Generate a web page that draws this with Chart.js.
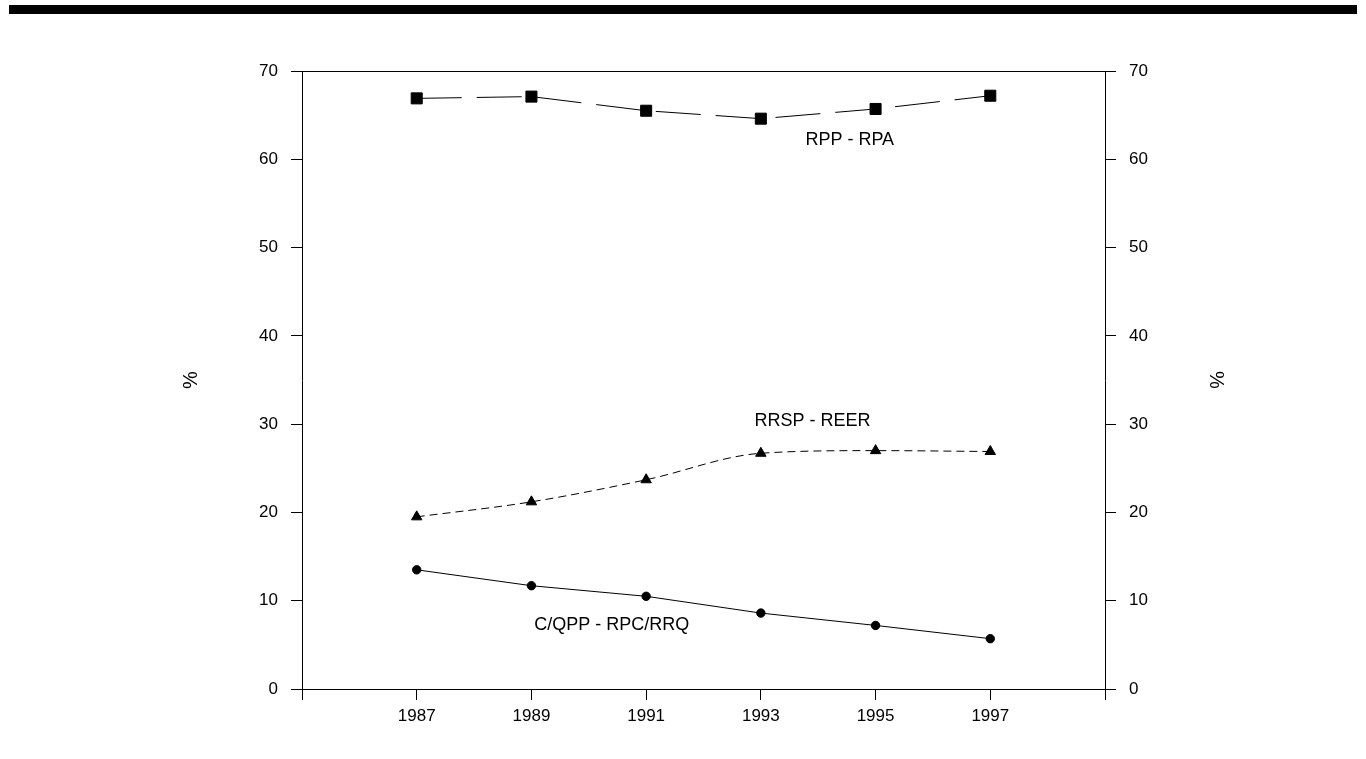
<!DOCTYPE html>
<html>
<head>
<meta charset="utf-8">
<script src="https://cdn.jsdelivr.net/npm/chart.js@4"></script>
<style>
  body { margin: 0; background: #fff; }
  #barra { position: absolute; left: 9px; top: 5px; width: 1348px; height: 9px; background: #000; }
  #grafico { position: absolute; left: 0; top: 0; }
</style>
</head>
<body>
<div id="barra"></div>
<canvas id="grafico" width="1366" height="759"></canvas>
<script>
// dados
const anos = [1987, 1989, 1991, 1993, 1995, 1997];
const rpp = [66.9, 67.1, 65.5, 64.6, 65.7, 67.2];
const rrsp = [19.5, 21.2, 23.7, 26.7, 27.0, 26.9];
const cqpp = [13.5, 11.7, 10.5, 8.6, 7.2, 5.7];

const nomes = ['RPP - RPA', 'RRSP - REER', 'C/QPP - RPC/RRQ'];
// onde fica cada rótulo (em valores dos eixos)
const rotuloX = [1994.55, 1993.9, 1990.4];
const rotuloY = [62.2, 30.4, 7.3];

const fonte = "'Liberation Sans', Arial, sans-serif";

function pontos(valores) {
  return anos.map((a, i) => ({ x: a, y: valores[i] }));
}

// rótulos escritos dentro do gráfico
const rotulos = {
  id: 'rotulos',
  afterDatasetsDraw(chart) {
    const c = chart.ctx;
    c.save();
    c.fillStyle = '#000';
    c.font = '18px ' + fonte;
    c.textAlign = 'center';
    c.textBaseline = 'middle';
    nomes.forEach((n, i) => {
      c.fillText(n, chart.scales.x.getPixelForValue(rotuloX[i]), chart.scales.y.getPixelForValue(rotuloY[i]));
    });
    c.restore();
  }
};

function eixoY(posicao) {
  return {
    position: posicao,
    min: 0,
    max: 70,
    ticks: { stepSize: 10, color: '#000', padding: 13, font: { family: fonte, size: 17 } },
    grid: { drawOnChartArea: false, tickLength: 11, color: '#000', lineWidth: 1 },
    border: { color: '#000', width: 1 },
    title: { display: true, text: '%', color: '#000', padding: 0, font: { family: fonte, size: 20 } },
    afterFit: s => { s.width = 123; }
  };
}

const ctx = document.getElementById('grafico').getContext('2d');
new Chart(ctx, {
  type: 'line',
  data: {
    datasets: [
      {
        label: nomes[0],
        data: pontos(rpp),
        borderColor: '#000',
        backgroundColor: '#000',
        borderWidth: 1,
        borderDash: [45, 15],
        tension: 0,
        pointStyle: 'rect',
        pointRadius: 7.8,
        pointBorderWidth: 1
      },
      {
        label: nomes[1],
        data: pontos(rrsp),
        borderColor: '#000',
        backgroundColor: '#000',
        borderWidth: 1,
        borderDash: [8, 5],
        cubicInterpolationMode: 'monotone',
        pointStyle: 'triangle',
        pointRadius: 6,
        pointBorderWidth: 1
      },
      {
        label: nomes[2],
        data: pontos(cqpp),
        borderColor: '#000',
        backgroundColor: '#000',
        borderWidth: 1,
        tension: 0,
        pointStyle: 'circle',
        pointRadius: 4.2,
        pointBorderWidth: 1
      }
    ]
  },
  options: {
    responsive: false,
    animation: false,
    layout: { padding: { left: 179, right: 138, top: 71, bottom: 0 } },
    plugins: {
      legend: { display: false },
      tooltip: { enabled: false }
    },
    scales: {
      x: {
        type: 'linear',
        min: 1985,
        max: 1999,
        ticks: {
          stepSize: 2,
          color: '#000',
          padding: 6,
          maxRotation: 0,
          font: { family: fonte, size: 17 },
          callback: v => (v === 1985 || v === 1999) ? '' : String(v)
        },
        grid: { drawOnChartArea: false, tickLength: 11, color: '#000', lineWidth: 1 },
        border: { color: '#000', width: 1 },
        afterFit: s => { s.height = 70; }
      },
      xTopo: {
        type: 'linear',
        position: 'top',
        min: 1985,
        max: 1999,
        ticks: { display: false },
        grid: { drawOnChartArea: false, drawTicks: false, color: '#000' },
        border: { color: '#000', width: 1 },
        afterFit: s => { s.height = 0; }
      },
      y: eixoY('left'),
      y2: eixoY('right')
    }
  },
  plugins: [rotulos]
});
</script>
</body>
</html>
